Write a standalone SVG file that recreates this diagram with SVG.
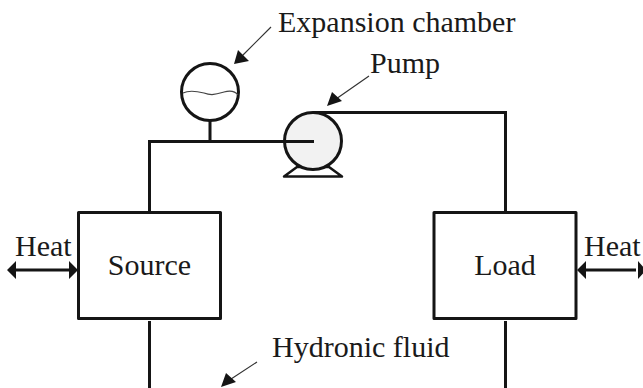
<svg xmlns="http://www.w3.org/2000/svg" width="643" height="388" viewBox="0 0 643 388">
<style>
text{font-family:"Liberation Serif","Times New Roman",serif;font-size:30px;fill:#1a1a1a}
.t{fill:none;stroke:#151515;stroke-width:3}
.b{fill:#fff;stroke:#151515;stroke-width:3;stroke-linejoin:round}
.l{fill:none;stroke:#333;stroke-width:1.2}
.h{fill:#151515}
</style>
<rect width="643" height="388" fill="#fff"/>
<g id="connectors">
<path class="t" d="M149.500 388V321M149.500 212V141.500H314M210 141.500V120M313 112.500H505.500V212M505.500 321V388"/>
<path class="t" d="M14 270H72M584 270H636"/>
<path class="h" d="M7 270L16 261V279ZM78 270L69 261V279ZM577 270L586 261V279ZM646 270L638 261V279Z"/>
</g>
<g id="pump">
<path d="M284 176.500L297 167H329L342 176.500Z" fill="#fff" stroke="#151515" stroke-width="2.500" stroke-linejoin="round"/>
<circle cx="313" cy="141" r="28.500" fill="#f2f2f2" stroke="#151515" stroke-width="3"/>
<path class="t" d="M284 141.500H314M313 112.500H330"/>
</g>
<g id="expansion-chamber">
<circle cx="210" cy="92" r="28.500" fill="#fff" stroke="#151515" stroke-width="3"/>
<path d="M183 93C189 90 196 91 204 93C212 96 217 94 224 92C231 90 235 91 238 95" fill="none" stroke="#444" stroke-width="1.200"/>
</g>
<g id="source"><rect class="b" x="78.500" y="212.500" width="142" height="106"/><text x="149.500" y="275" text-anchor="middle">Source</text></g>
<g id="load"><rect class="b" x="434" y="212.500" width="142" height="106"/><text x="505" y="275" text-anchor="middle">Load</text></g>
<g id="labels">
<text x="278" y="32">Expansion chamber</text>
<text x="370" y="73">Pump</text>
<text x="15" y="256">Heat</text>
<text x="584" y="256">Heat</text>
<text x="272" y="357">Hydronic fluid</text>
<path class="l" d="M271 27L242 56M369 76L336 99M257 362L228 381"/>
<path class="h" d="M234 64L238 50L249 61ZM327 106L332 92L342 101ZM221 387L226 373L236 382Z"/>
</g>
</svg>
